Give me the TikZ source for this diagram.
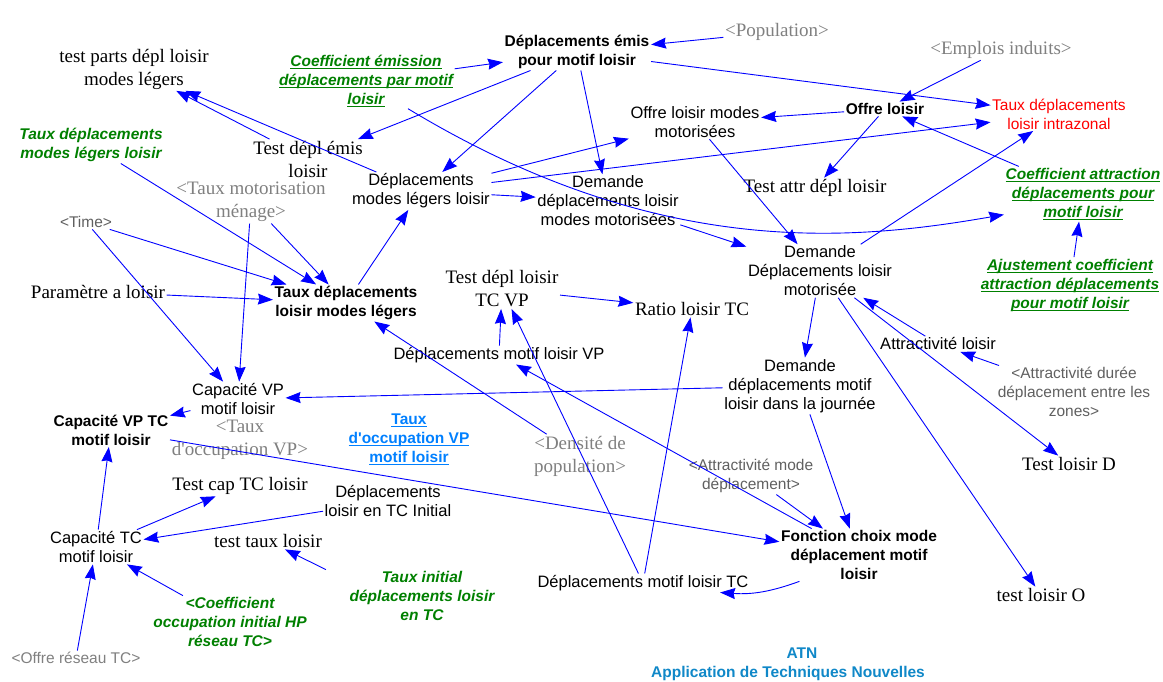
\documentclass[tikz,border=0pt]{standalone}
\usepackage{fontspec}
\setmainfont{Liberation Sans}[Ligatures=TeXOff]
\newfontfamily\timesfont{Liberation Serif}[Ligatures=TeXOff]
\usetikzlibrary{arrows.meta,calc}

\definecolor{linkblue}{RGB}{0,0,255}
\definecolor{vgreen}{RGB}{0,128,0}
\definecolor{vred}{RGB}{255,0,0}
\definecolor{shadowserif}{RGB}{128,128,128}
\definecolor{shadowsans}{RGB}{96,96,96}
\definecolor{shadowlight}{RGB}{128,128,128}
\definecolor{linkcyan}{RGB}{0,128,255}
\definecolor{atnblue}{RGB}{16,136,200}

% underline drawn as a rule just under the baseline
\newcommand{\vul}[1]{\setbox0=\hbox{#1}\rlap{\rule[-2.6pt]{\wd0}{1.1pt}}\box0}

\tikzset{
  var/.style={align=center, inner sep=1.5pt, font=\fontsize{16.5}{19}\selectfont},
  bvar/.style={var, font=\fontsize{15.5}{19}\selectfont\bfseries},
  svar/.style={var, font=\timesfont\fontsize{19}{23}\selectfont},
  gvar/.style={var, text=vgreen, font=\fontsize{15.5}{19}\selectfont\bfseries\itshape},
  shserif/.style={svar, text=shadowserif},
  shsans/.style={var, text=shadowsans, font=\fontsize{15.5}{19}\selectfont},
  link/.style={draw=linkblue, line width=0.9pt, -{Stealth[length=15pt,width=11pt,inset=1.5pt]}},
}

\begin{document}
\begin{tikzpicture}[x=1pt,y=-1pt]
\useasboundingbox (0,0) rectangle (1163,682);
\fill[white] (0,0) rectangle (1163,682);

% variables
\node[svar] (tparts) at (134,69) {test parts dépl loisir\\modes légers};
\node[gvar] (coefem) at (366,81) {\vul{Coefficient émission}\\\vul{déplacements par motif}\\\vul{loisir}};
\node[bvar] (demis) at (577,52) {Déplacements émis\\pour motif loisir};
\node[shserif] (pop) at (777,32) {<Population>};
\node[shserif] (empl) at (1001,50) {<Emplois induits>};
\node[var] (offmot) at (695,122) {Offre loisir modes\\motorisées};
\node[bvar] (offre) at (885,109) {Offre loisir};
\node[var, text=vred, font=\fontsize{15.5}{19}\selectfont] (intra) at (1059,114) {Taux déplacements\\loisir intrazonal};
\node[gvar] (tdml) at (91,145) {Taux déplacements\\modes légers loisir};
\node[svar] (testemis) at (308,159) {Test dépl émis\\loisir};
\node[var] (dml) at (421,191) {Déplacements\\modes légers loisir};
\node[var] (demmm) at (608,201) {Demande\\déplacements loisir\\modes motorisées};
\node[svar] (testattr) at (815,188) {Test attr dépl loisir};
\node[gvar] (coefat) at (1083,194) {\vul{Coefficient attraction}\\\vul{déplacements pour}\\\vul{motif loisir}};
\node[shserif] (tmot) at (251,202) {<Taux motorisation\\ménage>};
\node[shsans] (time) at (86,222) {<Time>};
\node[var] (demmot) at (820,271) {Demande\\Déplacements loisir\\motorisée};
\node[gvar] (ajust) at (1070,285) {\vul{Ajustement coefficient}\\\vul{attraction déplacements}\\\vul{pour motif loisir}};
\node[svar] (param) at (98,292) {Paramètre a loisir};
\node[bvar] (tdlml) at (346,303) {Taux déplacements\\loisir modes légers};
\node[svar] (testtcvp) at (502,289) {Test dépl loisir\\TC VP};
\node[svar] (ratio) at (692,309) {Ratio loisir TC};
\node[var] (dvp) at (499,355) {Déplacements motif loisir VP};
\node[var] (attrl) at (938,344) {Attractivité loisir};
\node[var] (demj) at (800,386) {Demande\\déplacements motif\\loisir dans la journée};
\node[shsans] (attrdur) at (1074,392) {<Attractivité durée\\déplacement entre les\\zones>};
\node[var] (capvp) at (238,399) {Capacité VP\\motif loisir};
\node[bvar] (capvptc) at (111,430) {Capacité VP TC\\motif loisir};
\node[shserif] (toccvp) at (240,440) {<Taux\\d'occupation VP>};
\node[var, text=linkcyan, font=\fontsize{15.5}{19}\selectfont\bfseries] (toccm) at (409,439) {\vul{Taux}\\\vul{d'occupation VP}\\\vul{motif loisir}};
\node[shserif] (dens) at (580,456) {<Densité de\\population>};
\node[shsans] (attrmode) at (751,476) {<Attractivité mode\\déplacement>};
\node[svar] (testD) at (1069,464) {Test loisir D};
\node[svar] (testcap) at (240,486) {Test cap TC loisir};
\node[var] (dtcinit) at (388,501) {Déplacements\\loisir en TC Initial};
\node[var] (captc) at (96,547) {Capacité TC\\motif loisir};
\node[svar] (testtaux) at (268,541) {test taux loisir};
\node[bvar] (fonction) at (859,555) {Fonction choix mode\\déplacement motif\\loisir};
\node[gvar] (tinit) at (422,596) {Taux initial\\déplacements loisir\\en TC};
\node[gvar] (coefocc) at (230,622) {<Coefficient\\occupation initial HP\\réseau TC>};
\node[var] (dtc) at (643,583) {Déplacements motif loisir TC};
\node[svar] (testO) at (1041,595) {test loisir O};
\node[shsans, text=shadowlight] (offres) at (76,658) {<Offre réseau TC>};
\node[bvar, text=atnblue] (atn) at (788,664) {\hspace*{28pt}ATN\\Application de Techniques Nouvelles};

% links
\draw[link] (pop) -- (demis);
\draw[link] (coefem) -- (demis);
\draw[link] (demis) -- (testemis);
\draw[link] (demis) -- (dml);
\draw[link] (demis) -- (demmm);
\draw[link] (demis) -- (intra);
\draw[link] (empl) -- (offre);
\draw[link] (offre) -- (offmot);
\draw[link] (offre) -- (testattr);
\draw[link] (coefat) -- (offre);
\draw[link] (demmot) -- (intra);
\draw[link] (dml) -- (offmot);
\draw[link] (dml) -- (intra);
\draw[link] (dml) -- (demmm);
\draw[link] (dml) -- (tparts);
\draw[link] (testemis) -- (tparts);
\draw[link] ([xshift=42pt]coefem.south) .. controls (658,260) and (852,241) .. ([yshift=7pt]coefat.south west);
\draw[link] (demmm) -- (demmot);
\draw[link] (offmot) -- (demmot);
\draw[link] (demmot) -- (demj);
\draw[link] (demmot) -- (testO);
\draw[link] (demmot) -- (testD);
\draw[link] (attrl) -- (demmot);
\draw[link] (attrdur) -- (attrl);
\draw[link] (demj) -- (fonction);
\draw[link] (attrmode) -- (fonction);
\draw[link] (fonction) -- (dvp);
\draw[link] ([xshift=20pt]fonction.south west) to[bend left=12] ([xshift=-30pt]dtc.south east);
\draw[link] (demj) -- (capvp);
\draw[link] (capvp) -- (capvptc);
\draw[link] (capvptc) -- (fonction);
\draw[link] (captc) -- (capvptc);
\draw[link] (captc) -- (testcap);
\draw[link] (dtcinit) -- (captc);
\draw[link] (offres) -- (captc);
\draw[link] (coefocc) -- (captc);
\draw[link] ([xshift=-22pt]tinit.north west) -- (testtaux);
\draw[link] (dens) -- (tdlml);
\draw[link] (tdlml) -- (dml);
\draw[link] (time) -- (tdlml);
\draw[link] (time) -- (capvp);
\draw[link] (tdml) -- (tdlml);
\draw[link] (tmot) -- (tdlml);
\draw[link] (tmot) -- (capvp);
\draw[link] (param) -- (tdlml);
\draw[link] (dvp) -- (testtcvp);
\draw[link] (testtcvp) -- (ratio);
\draw[link] (dtc) -- (ratio);
\draw[link] (dtc) -- (testtcvp);
\draw[link] (ajust) -- (coefat);
\end{tikzpicture}
\end{document}
